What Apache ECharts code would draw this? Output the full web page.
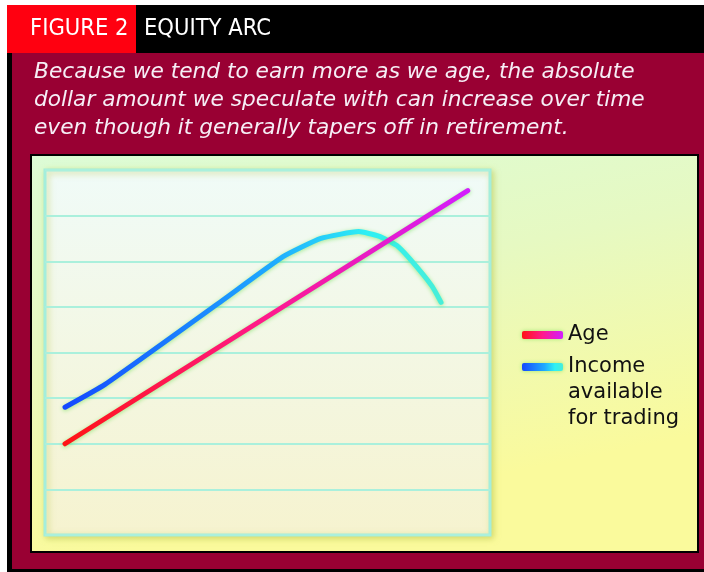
<!DOCTYPE html>
<html>
<head>
<meta charset="utf-8">
<title>Equity arc</title>
<script src="https://cdn.jsdelivr.net/npm/echarts@6/dist/echarts.min.js"></script>
<style>
  html, body { margin: 0; padding: 0; background: #fff; }
  #main { width: 704px; height: 572px; }
</style>
</head>
<body>
<div id="main"></div>
<script>
// data (x: position along working life 0-100, y: grid units 0-8)
var ageX = [4.5, 95];
var ageY = [2.0, 7.55];
var incomeX = [4.5, 13.5, 40, 53.5, 62, 70.5, 75, 79, 82, 87, 89];
var incomeY = [2.8, 3.3, 5.15, 6.1, 6.5, 6.65, 6.55, 6.35, 6.05, 5.45, 5.1];
var seriesNames = ['Age', 'Income available for trading'];
var legendLabels = ['Age', 'Income\navailable\nfor trading'];
var figureLabel = 'FIGURE 2';
var figureTitle = 'EQUITY ARC';
var subtitleLines = [
	'Because we tend to earn more as we age, the absolute',
	'dollar amount we speculate with can increase over time',
	'even though it generally tapers off in retirement.'
];
var yMin = 0, yMax = 8, yStep = 1;
var xMin = 0, xMax = 100;

function pairs(xs, ys) {
	return xs.map(function(x, i) {
		return [x, ys[i]];
	});
}

var G = echarts.graphic.LinearGradient;
var ageGrad = new G(0, 0, 1, 0, [
	{ offset: 0, color: '#ff1414' },
	{ offset: 0.5, color: '#ff1a8c' },
	{ offset: 1, color: '#d21eff' }
]);
var incomeGrad = new G(0, 0, 1, 0, [
	{ offset: 0, color: '#1448ff' },
	{ offset: 0.55, color: '#1eaaff' },
	{ offset: 0.8, color: '#2ef0f4' },
	{ offset: 1, color: '#48eed8' }
]);
var glow = 'rgba(90,220,60,0.55)';

var myChart = echarts.init(document.getElementById('main'));

// 背景、标题
var graphics = [
	{ type: 'rect', z: -10, shape: { x: 7, y: 53, width: 697, height: 519 }, style: { fill: '#000' } },
	{ type: 'rect', z: -9, shape: { x: 12, y: 53, width: 692, height: 516 }, style: { fill: '#990033' } },
	{ type: 'rect', z: -9, shape: { x: 7, y: 5, width: 129, height: 48 }, style: { fill: '#ff0010' } },
	{ type: 'rect', z: -9, shape: { x: 136, y: 5, width: 568, height: 48 }, style: { fill: '#000' } },
	{ type: 'text', z: -8, x: 30, y: 29, style: { text: figureLabel, fill: '#fff', font: '23.5px "DejaVu Sans Condensed"', verticalAlign: 'middle' } },
	{ type: 'text', z: -8, x: 144, y: 29, style: { text: figureTitle, fill: '#fff', font: '23.5px "DejaVu Sans Condensed"', verticalAlign: 'middle' } },
	{
		type: 'rect', z: -8,
		shape: { x: 31, y: 155, width: 667, height: 397 },
		style: {
			fill: new G(0, 0, 0.12, 1, [
				{ offset: 0, color: '#dcfcd6' },
				{ offset: 0.45, color: '#e6f9c2' },
				{ offset: 1, color: '#fafa9c' }
			]),
			stroke: '#000', lineWidth: 2
		}
	}
];
subtitleLines.forEach(function(line, i) {
	graphics.push({
		type: 'text', z: -8, x: 34, y: 72 + i * 28,
		style: { text: line, fill: '#f6eef6', font: 'italic 21.7px "DejaVu Sans"', verticalAlign: 'middle' }
	});
});

var legendBase = {
	orient: 'vertical',
	left: 517,
	itemWidth: 41,
	itemHeight: 8,
	icon: 'roundRect',
	selectedMode: false,
	textStyle: { fontFamily: 'DejaVu Sans', fontSize: 21, lineHeight: 26, color: '#111' }
};

var option = {
	animation: false,
	graphic: graphics,
	grid: {
		show: true,
		left: 45, right: 214, top: 170, bottom: 37,
		borderColor: '#a4eedc',
		borderWidth: 3,
		backgroundColor: new G(0, 0, 0, 1, [
			{ offset: 0, color: '#f0fbf8' },
			{ offset: 1, color: '#f6f3cf' }
		]),
		shadowColor: 'rgba(190,200,80,0.6)',
		shadowBlur: 6,
		shadowOffsetX: 2,
		shadowOffsetY: 2
	},
	xAxis: {
		type: 'value', min: xMin, max: xMax,
		axisLine: { show: false }, axisTick: { show: false },
		axisLabel: { show: false }, splitLine: { show: false }
	},
	yAxis: {
		type: 'value', min: yMin, max: yMax, interval: yStep,
		axisLine: { show: false }, axisTick: { show: false },
		axisLabel: { show: false },
		splitLine: { lineStyle: { color: '#aaf0dc', width: 2 } }
	},
	legend: [
		Object.assign({}, legendBase, {
			top: 317,
			data: [{ name: seriesNames[0], itemStyle: { color: ageGrad, shadowColor: glow, shadowBlur: 4 } }],
			formatter: function() { return legendLabels[0]; }
		}),
		Object.assign({}, legendBase, {
			top: 297,
			data: [{ name: seriesNames[1], itemStyle: { color: incomeGrad, shadowColor: glow, shadowBlur: 4 } }],
			formatter: function() { return '\n\n' + legendLabels[1]; }
		})
	],
	series: [
		{
			name: seriesNames[1],
			type: 'line',
			data: pairs(incomeX, incomeY),
			showSymbol: false,
			smooth: 0.15,
			itemStyle: { color: incomeGrad },
			lineStyle: { color: incomeGrad, width: 5, cap: 'round', join: 'round', shadowColor: glow, shadowBlur: 4, shadowOffsetY: 1 }
		},
		{
			name: seriesNames[0],
			type: 'line',
			data: pairs(ageX, ageY),
			showSymbol: false,
			itemStyle: { color: ageGrad },
			lineStyle: { color: ageGrad, width: 5, cap: 'round', shadowColor: glow, shadowBlur: 4, shadowOffsetY: 1 }
		}
	]
};

myChart.setOption(option);
</script>
</body>
</html>
